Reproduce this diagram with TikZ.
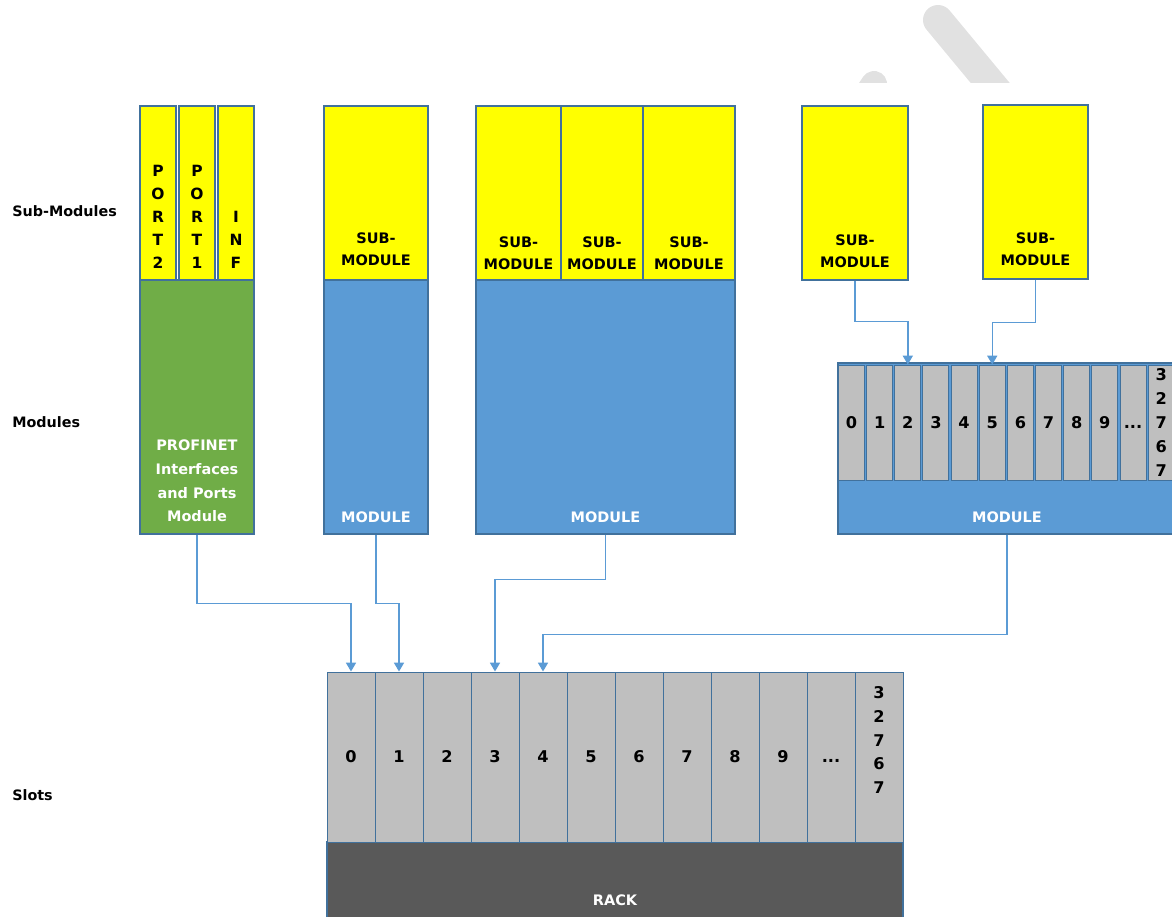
\documentclass[tikz,border=0pt]{standalone}
\usepackage{fontspec}
\setmainfont{DejaVu Sans}
\usetikzlibrary{arrows.meta,positioning,calc}
\definecolor{pyellow}{RGB}{255,255,0}
\definecolor{pgreen}{RGB}{112,173,71}
\definecolor{pblue}{RGB}{91,155,213}
\definecolor{pslot}{RGB}{191,191,191}
\definecolor{prack}{RGB}{89,89,89}
\definecolor{pedge}{RGB}{65,113,156}
\definecolor{pwater}{RGB}{225,225,225}

\begin{document}
\begin{tikzpicture}[x=0.25mm, y=-0.25mm,
  blk/.style={draw=pedge, fill=#1, line width=1pt, inner sep=0pt},
  subbox/.style={blk=pyellow, minimum width=#1, minimum height=43.5mm},
  modbox/.style={blk=pblue, minimum width=#1, minimum height=63.5mm},
  slotbox/.style={draw=pedge, fill=pslot, line width=0.7pt, inner sep=0pt,
                  minimum width=#1, align=center,
                  font=\fontsize{11.5}{16.9}\selectfont\bfseries},
  digit/.style={text height=8.4pt, text depth=0pt},
  txt/.style={font=\fontsize{10.3}{15.6}\selectfont\bfseries, align=center, inner sep=0pt},
  wtxt/.style={txt, text=white},
  vtxt/.style={font=\fontsize{11}{16.4}\selectfont\bfseries, align=center, inner sep=0pt},
  side/.style={font=\fontsize{10.2}{12}\selectfont\bfseries, anchor=west, inner sep=0pt},
  conn/.style={-{Triangle[width=2.5mm,length=2.2mm]}, draw=pblue, line width=1pt}
]
  \useasboundingbox (0,0) rectangle (1172,916);

  % watermark pieces at the top
  \begin{scope}
    \clip (800,0) rectangle (1100,82);
    \draw[pwater, line width=7.5mm, line cap=round] (938,20) -- (1040,143);
    \draw[pwater, line width=6.5mm, line cap=round] (874,84) -- (830,150);
  \end{scope}

  % level labels
  \node[side] (lsub)  at (12,211) {Sub-Modules};
  \node[side] (lmod)  at (12,422) {Modules};
  \node[side] (lslot) at (12,795) {Slots};

  % PROFINET interface module
  \node[subbox=9mm] (p2)  at (158,193) {};
  \node[subbox=9mm] (p1)  at (197,193) {};
  \node[subbox=9mm] (inf) at (236,193) {};
  \node[vtxt] (p2t)  at (158,217) {P\\O\\R\\T\\2};
  \node[vtxt] (p1t)  at (197,217) {P\\O\\R\\T\\1};
  \node[vtxt] (inft) at (236,240) {I\\N\\F};
  \node[blk=pgreen, minimum width=28.5mm, minimum height=63.5mm] (pn) at (197,407) {};
  \node[wtxt, font=\fontsize{10.3}{16.9}\selectfont\bfseries] (pnt) at (197,481) {PROFINET\\Interfaces\\and Ports\\Module};

  % module with one sub-module
  \node[subbox=26mm] (s2) at (376,193) {};
  \node[txt] (s2t) at (376,249) {SUB-\\MODULE};
  \node[modbox=26mm] (m2) at (376,407) {};
  \node[wtxt] (m2t) at (376,517) {MODULE};

  % module with three sub-modules
  \node[subbox=21.25mm] (s3a) at (518.5,193) {};
  \node[subbox=20.5mm]  (s3b) at (602,193) {};
  \node[subbox=23mm]    (s3c) at (689,193) {};
  \node[txt] (s3at) at (518.5,253) {SUB-\\MODULE};
  \node[txt] (s3bt) at (602,253) {SUB-\\MODULE};
  \node[txt] (s3ct) at (689,253) {SUB-\\MODULE};
  \node[modbox=64.75mm] (m3) at (605.5,407) {};
  \node[wtxt] (m3t) at (605.5,517) {MODULE};

  % loose sub-modules
  \node[subbox=26.5mm] (s4a) at (855,193) {};
  \node[txt] (s4at) at (855,251) {SUB-\\MODULE};
  \node[subbox=26.25mm] (s4b) at (1035.5,192) {};
  \node[txt] (s4bt) at (1035.5,249) {SUB-\\MODULE};

  % module with sub-slots
  \node[blk=pblue, minimum width=84.5mm, minimum height=42.75mm] (m4) at (1007,448.5) {};
  \foreach \i in {0,...,9}
    \node[slotbox=6.5mm, digit, minimum height=28.75mm] (k\i) at ({851.5+28.15*\i},422.5) {\i};
  \node[slotbox=6.5mm, digit, minimum height=28.75mm] (k10) at ({851.5+28.15*10},422.5) {...};
  \node[slotbox=6.5mm, minimum height=28.75mm] (k11) at ({851.5+28.15*11},422.5) {3\\2\\7\\6\\7};
  \node[wtxt] (m4t) at (1007,517) {MODULE};

  % rack
  \node[blk=prack, minimum width=144mm, minimum height=22mm] (rk) at (615,886) {};
  \node[wtxt] (rkt) at (615,900) {RACK};
  \foreach \i in {0,...,9}
    \node[slotbox=12mm, digit, minimum height=42.5mm] (r\i) at ({351+48*\i},757) {\i};
  \node[slotbox=12mm, digit, minimum height=42.5mm] (r10) at (831,757) {...};
  \node[slotbox=12mm, minimum height=42.5mm] (r11) at (879,757) {};
  \node[vtxt, font=\fontsize{11.5}{16.9}\selectfont\bfseries] (r11t) at (879,740) {3\\2\\7\\6\\7};

  % connectors
  \draw[conn] (pn.south) -- ++(0,69) -| (r0.north);
  \draw[conn] (m2.south) -- ++(0,69) -| (r1.north);
  \draw[conn] (m3.south) -- ++(0,45) -| (r3.north);
  \draw[conn] (m4.south) -- ++(0,100) -| (r4.north);
  \draw[conn] (s4a.south) -- ++(0,41) -| (k2.north);
  \draw[conn] (s4b.south) -- ++(0,43) -| (k5.north);
\end{tikzpicture}
\end{document}
